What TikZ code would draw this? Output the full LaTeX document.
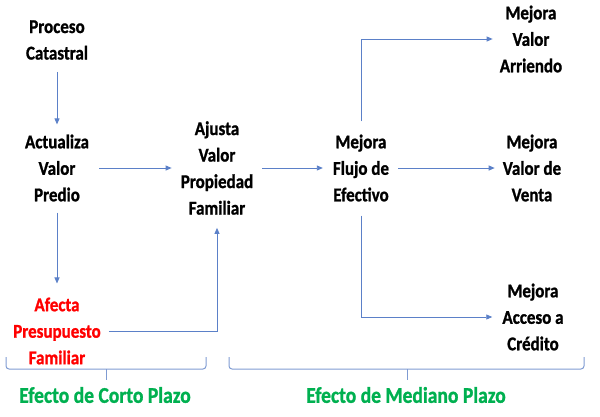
\documentclass[tikz,border=0pt]{standalone}
\usepackage{fontspec}
\setmainfont{Carlito}[BoldFeatures={FakeBold=1.2}]
\usetikzlibrary{arrows.meta}
\definecolor{arrblue}{HTML}{5B80C8}
\definecolor{brblue}{HTML}{7F9BD2}
\definecolor{effgreen}{HTML}{00B050}
\definecolor{effred}{HTML}{FF0000}
\tikzset{
  box/.style={align=center, inner sep=0pt, xscale=0.87, transform shape, font=\fontsize{19.5}{26.5}\selectfont\bfseries},
  redbox/.style={box, text=effred},
  lbl/.style={inner sep=0pt, xscale=0.87, transform shape, text=effgreen, font=\fontsize{22.5}{26}\selectfont\bfseries},
  arr/.style={draw=arrblue, line width=0.9pt, -{Triangle[length=6pt,width=5pt]}},
  brace/.style={draw=brblue, line width=1pt, rounded corners=3pt}
}
\begin{document}
\begin{tikzpicture}[x=1pt,y=-1pt]
\useasboundingbox (0,0) rectangle (600,416);
\node[box] (proc) at (57,40) {Proceso\\Catastral};
\node[box] (act) at (57,168) {Actualiza\\Valor\\Predio};
\node[redbox] (afe) at (57,331) {Afecta\\Presupuesto\\Familiar};
\node[box] (aju) at (217,168) {Ajusta\\Valor\\Propiedad\\Familiar};
\node[box] (flu) at (361,168) {Mejora\\Flujo de\\Efectivo};
\node[box] (arr) at (531,39) {Mejora\\Valor\\Arriendo};
\node[box] (ven) at (532,168) {Mejora\\Valor de\\Venta};
\node[box] (cre) at (533,317) {Mejora\\Acceso a\\Crédito};
\node[lbl] (corto) at (105,395) {Efecto de Corto Plazo};
\node[lbl] (mediano) at (406,395) {Efecto de Mediano Plazo};

\draw[arr, shorten <=12pt, shorten >=10pt] (proc.south) -- (act.north);
\draw[arr, shorten <=10pt, shorten >=9pt] (act.east) -- (aju.west);
\draw[arr, shorten <=11pt, shorten >=14pt] (act.south) -- (afe.north);
\draw[arr, shorten <=8pt, shorten >=13pt] (afe.east) -| (aju.south);
\draw[arr, shorten <=9pt, shorten >=10pt] (aju.east) -- (flu.west);
\draw[arr, shorten <=9pt, shorten >=8pt] (flu.east) -- (ven.west);
\draw[arr, shorten <=13pt, shorten >=7pt] (flu.north) |- (arr.west);
\draw[arr, shorten <=14pt, shorten >=10pt] (flu.south) |- (cre.west);

\coordinate (b1l) at (6,357);
\coordinate (b1r) at (206,357);
\coordinate (b1m) at (106,380);
\draw[brace] (b1l) -- (6,369) -- (206,369) -- (b1r);
\draw[draw=brblue, line width=1pt] (106,369) -- (b1m);
\coordinate (b2l) at (229,357);
\coordinate (b2r) at (584,357);
\coordinate (b2m) at (407,380);
\draw[brace] (b2l) -- (229,369) -- (584,369) -- (b2r);
\draw[draw=brblue, line width=1pt] (407,369) -- (b2m);
\end{tikzpicture}
\end{document}
